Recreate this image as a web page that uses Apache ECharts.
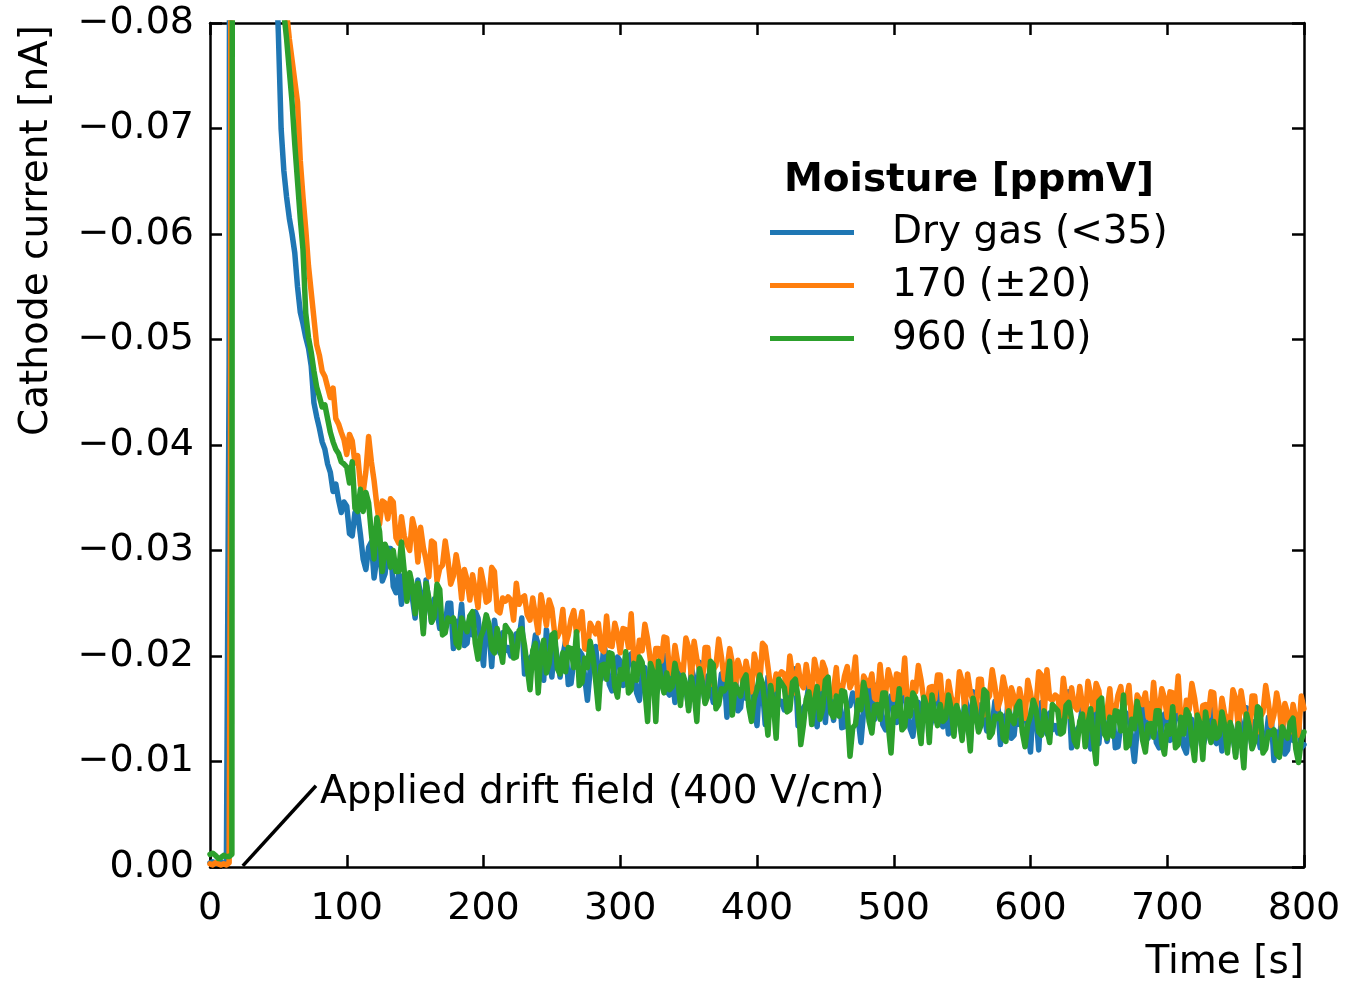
<!DOCTYPE html>
<html>
<head>
<meta charset="utf-8">
<script src="https://cdn.jsdelivr.net/npm/echarts@6/dist/echarts.min.js"></script>
<style>
html,body{margin:0;padding:0;background:#fff;}
#chart{width:1348px;height:983px;}
</style>
</head>
<body>
<div id="chart"></div>
<script>
// Time samples [s]
const timeS = [0,2,4,6,8,10,12,13,14,15,16,17,18,24,32,40,45,
48,50,52,54,56,58,60,62,64,66,68,70,72,74,76,78,80,82,84,86,88,90,92,94,96,98,
100,102,104,106,108,110,112,114,116,118,120,122,124,126,128,130,132,134,136,138,
140,142,144,146,148,150,152,154,156,158,160,162,164,166,168,170,172,174,176,178,
180,182,184,186,188,190,192,194,196,198,200,202,204,206,208,210,212,214,216,218,
220,222,224,226,228,230,232,234,236,238,240,242,244,246,248,250,252,254,256,258,
260,262,264,266,268,270,272,274,276,278,280,282,284,286,288,290,292,294,296,298,
300,302,304,306,308,310,312,314,316,318,320,322,324,326,328,330,332,334,336,338,
340,342,344,346,348,350,352,354,356,358,360,362,364,366,368,370,372,374,376,378,
380,382,384,386,388,390,392,394,396,398,400,402,404,406,408,410,412,414,416,418,
420,422,424,426,428,430,432,434,436,438,440,442,444,446,448,450,452,454,456,458,
460,462,464,466,468,470,472,474,476,478,480,482,484,486,488,490,492,494,496,498,
500,502,504,506,508,510,512,514,516,518,520,522,524,526,528,530,532,534,536,538,
540,542,544,546,548,550,552,554,556,558,560,562,564,566,568,570,572,574,576,578,
580,582,584,586,588,590,592,594,596,598,600,602,604,606,608,610,612,614,616,618,
620,622,624,626,628,630,632,634,636,638,640,642,644,646,648,650,652,654,656,658,
660,662,664,666,668,670,672,674,676,678,680,682,684,686,688,690,692,694,696,698,
700,702,704,706,708,710,712,714,716,718,720,722,724,726,728,730,732,734,736,738,
740,742,744,746,748,750,752,754,756,758,760,762,764,766,768,770,772,774,776,778,
780,782,784,786,788,790,792,794,796,798,800];

// Cathode current in pA (1 pA = 0.001 nA)
const dryGasPA = [-0.4,-0.5,-0.3,-0.4,-0.5,-0.3,-0.4,-0.5,-47.6,-200,-350,-420,-450,-360,-240,-150,-105,
-86,-79,-70,-66,-63.5,-61.5,-60,-58.2,-55,-52.6,-51.5,-50.2,-49.2,-47.5,-44,-42.7,-41.6,-40.3,-39.6,-38.2,-37.4,-35.6,-36.3,-34.8,-33.6,-34.6,
-34.2,-31.6,-31.4,-33.6,-33.5,-31.5,-29.2,-28.2,-30.3,-30.8,-27.4,-29.3,-30.4,-27.1,-27.8,-30.2,-30.2,-26.6,-26.0,-27.7,
-24.9,-27.8,-27.0,-25.6,-25.5,-23.6,-27.2,-25.9,-22.5,-27.2,-25.1,-23.2,-25.4,-24.3,-22.6,-22.8,-23.0,-25.0,-25.0,-20.7,
-23.3,-22.4,-24.9,-21.0,-21.2,-23.7,-22.0,-24.2,-23.6,-21.1,-19.1,-23.4,-22.5,-19.0,-23.4,-21.5,-20.3,-22.2,-20.5,-20.8,
-20.0,-21.5,-22.1,-21.7,-23.6,-18.3,-18.8,-19.8,-20.1,-22.0,-21.1,-18.7,-17.7,-22.5,-20.2,-18.0,-21.3,-19.8,-18.0,-20.0,
-21.4,-17.3,-17.4,-19.5,-19.4,-20.5,-20.1,-18.0,-15.8,-18.7,-19.6,-20.9,-18.2,-17.8,-21.1,-19.8,-17.3,-16.7,-18.6,-19.9,
-19.5,-17.2,-17.4,-19.9,-20.2,-18.5,-16.5,-15.8,-18.2,-18.9,-15.8,-17.9,-19.3,-16.2,-17.2,-19.8,-20.1,-16.7,-16.3,-18.2,
-15.6,-18.7,-18.1,-16.8,-16.9,-15.1,-18.9,-17.8,-14.6,-19.4,-17.5,-15.7,-18.1,-17.2,-15.6,-15.9,-16.2,-18.3,-18.4,-14.2,
-16.9,-16.0,-18.6,-14.8,-15.1,-17.6,-16.0,-18.2,-17.7,-15.3,-13.4,-17.7,-16.9,-13.5,-18.0,-16.1,-15.0,-17.0,-15.4,-15.7,
-14.9,-16.4,-17.1,-16.8,-18.8,-13.4,-14.0,-15.1,-15.5,-17.4,-16.6,-14.2,-13.3,-18.1,-15.9,-13.7,-17.1,-15.6,-13.9,-15.9,
-17.2,-13.2,-13.3,-15.4,-15.3,-16.5,-16.1,-14.0,-11.8,-14.8,-15.7,-17.0,-14.3,-14.0,-17.3,-16.0,-13.5,-13.0,-14.9,-16.2,
-15.9,-13.7,-13.9,-16.4,-16.7,-15.1,-13.1,-12.4,-14.8,-15.6,-12.5,-14.7,-16.1,-13.0,-14.0,-16.7,-17.0,-13.7,-13.3,-15.2,
-12.6,-15.8,-15.2,-13.9,-14.0,-12.3,-16.1,-15.0,-11.8,-16.6,-14.7,-13.0,-15.4,-14.5,-12.9,-13.2,-13.5,-15.7,-15.8,-11.6,
-14.3,-13.5,-16.1,-12.2,-12.5,-15.1,-13.5,-15.8,-15.3,-12.8,-10.9,-15.3,-14.5,-11.1,-15.6,-13.7,-12.6,-14.6,-13.0,-13.4,
-12.7,-14.3,-15.0,-14.6,-16.6,-11.3,-11.9,-13.0,-13.4,-15.3,-14.5,-12.1,-11.2,-16.1,-13.9,-11.7,-15.1,-13.6,-11.9,-13.9,
-15.3,-11.3,-11.4,-13.5,-13.4,-14.6,-14.2,-12.2,-10.0,-13.0,-13.9,-15.2,-12.5,-12.2,-15.5,-14.3,-11.8,-11.3,-13.2,-14.5,
-14.2,-12.0,-12.2,-14.7,-15.0,-13.4,-11.4,-10.8,-13.2,-14.0,-10.9,-13.0,-14.4,-11.4,-12.4,-15.1,-15.4,-12.1,-11.7,-13.6,
-11.0,-14.2,-13.6,-12.3,-12.4,-10.7,-14.5,-13.4,-10.2,-15.1,-13.2,-11.4,-13.8,-12.9,-11.3,-11.7,-12.0,-14.2,-14.3,-10.1,
-12.8,-12.0,-14.6,-10.7,-11.1,-13.6,-12.0,-14.2,-13.7,-11.3,-11.6];

const ppm170PA = [-0.3,-0.2,-0.4,-0.3,-0.2,-0.3,-0.2,-0.3,-0.4,-35,-250,-400,-450,-380,-260,-170,-120,
-96,-91,-87,-84,-81,-78.5,-76.5,-74.5,-72.5,-67,-63.5,-60.5,-57,-54.5,-52,-49.5,-48.5,-47,-46.5,-45.5,-44.5,-45.4,-42.5,-42,-41.2,-40.5,
-39.1,-41.0,-40.4,-38.3,-39.0,-36.2,-35.5,-37.5,-40.8,-38.4,-36.6,-34.3,-32.5,-34.7,-34.5,-33.0,-34.9,-34.6,-31.2,-30.7,
-33.2,-31.4,-30.6,-30.0,-33.0,-31.9,-28.9,-32.2,-30.3,-29.1,-27.5,-30.9,-30.7,-27.1,-28.3,-28.6,-30.9,-29.1,-26.8,-27.6,
-29.6,-28.1,-25.4,-28.2,-27.2,-25.3,-27.7,-26.2,-24.6,-28.2,-26.9,-25.1,-25.3,-28.4,-28.0,-24.3,-24.1,-25.5,-25.2,-25.6,
-25.3,-23.4,-26.9,-24.9,-25.5,-25.7,-23.9,-23.4,-25.5,-23.8,-22.2,-25.8,-24.4,-22.9,-25.3,-24.5,-22.2,-21.8,-22.4,-24.4,
-21.1,-22.0,-23.5,-24.3,-22.2,-22.8,-24.2,-20.7,-20.6,-23.1,-22.6,-22.1,-23.1,-20.7,-20.4,-23.8,-21.0,-20.9,-23.1,-22.1,
-20.3,-22.6,-22.5,-20.8,-24.0,-19.5,-19.2,-21.5,-20.5,-23.0,-21.6,-19.6,-18.2,-20.7,-20.7,-19.5,-21.8,-21.7,-18.5,-18.3,
-21.0,-19.4,-18.9,-18.5,-21.7,-20.8,-18.0,-21.4,-19.7,-18.7,-17.3,-20.8,-20.8,-17.3,-18.7,-19.1,-21.6,-19.9,-17.8,-18.7,
-20.7,-19.3,-16.7,-19.6,-18.7,-17.0,-19.5,-18.1,-16.6,-20.2,-19.0,-17.3,-21.2,-20.9,-19.0,-16.9,-16.8,-18.3,-18.1,-18.5,
-18.3,-16.5,-20.0,-18.1,-16.5,-19.1,-17.4,-17.0,-19.2,-17.5,-16.0,-19.7,-18.4,-16.9,-19.4,-18.7,-16.5,-16.1,-16.8,-18.9,
-15.6,-16.6,-18.1,-19.0,-17.0,-17.6,-19.9,-15.6,-15.6,-18.1,-17.6,-17.2,-18.3,-16.0,-15.8,-19.2,-16.4,-16.4,-18.7,-17.7,
-15.9,-18.3,-18.2,-16.5,-19.8,-15.4,-15.1,-17.5,-16.6,-19.1,-17.7,-15.8,-14.4,-17.0,-17.1,-15.9,-18.2,-18.2,-15.1,-14.8,
-17.6,-16.1,-15.6,-15.2,-18.5,-17.6,-14.9,-18.3,-16.6,-15.6,-14.3,-17.8,-17.8,-14.4,-15.8,-16.2,-18.7,-17.1,-15.0,-15.9,
-18.0,-16.7,-14.1,-17.0,-16.1,-14.4,-16.9,-15.6,-14.1,-17.7,-16.5,-14.9,-15.2,-18.5,-18.2,-14.5,-18.7,-16.0,-15.8,-16.3,
-16.1,-14.3,-17.9,-15.9,-14.3,-17.0,-15.3,-14.9,-17.1,-15.4,-13.9,-17.6,-16.3,-14.9,-17.4,-16.7,-14.5,-14.1,-14.8,-16.9,
-13.7,-14.7,-16.3,-17.1,-15.1,-15.8,-17.2,-13.8,-13.8,-16.3,-15.8,-15.4,-16.5,-14.2,-14.0,-17.5,-14.7,-14.6,-16.9,-16.0,
-14.2,-16.6,-16.5,-14.8,-18.1,-13.7,-13.4,-15.8,-14.9,-17.4,-16.0,-14.1,-12.7,-15.3,-15.4,-14.3,-16.6,-16.5,-13.4,-13.2,
-16.0,-14.5,-14.0,-13.6,-16.8,-16.0,-13.2,-16.7,-15.0,-14.0,-12.6,-16.2,-16.2,-12.8,-14.2,-14.7,-17.2,-15.5,-13.4,-14.4,
-16.5,-15.1,-12.6,-15.5,-14.6,-12.8,-15.4,-14.0,-12.5,-16.2,-15.0];

const ppm960PA = [-1.2,-1.3,-1.1,-0.8,-0.9,-1.1,-1.0,-1.1,-1.0,-1.1,-1.2,-300,-450,-380,-260,-170,-120,
-93,-88.5,-84.5,-81,-78.5,-75.5,-72.5,-68.5,-65,-61.5,-58.5,-52.5,-50.2,-48.8,-47,-45.5,-44.6,-43.6,-43.8,-42.5,-41.2,-40.3,-39.6,-39.2,-38.4,-38.2,
-37.9,-36.4,-38.4,-34.0,-33.7,-35.8,-33.7,-35.5,-34.5,-31.6,-29.2,-33.1,-31.8,-28.0,-30.6,-29.9,-28.4,-30.0,-28.0,-28.0,
-30.8,-28.1,-25.2,-27.9,-26.7,-24.0,-26.9,-25.1,-22.1,-26.9,-25.5,-23.2,-23.7,-26.8,-26.3,-22.0,-22.2,-23.6,-23.3,-23.6,
-21.2,-20.8,-23.6,-22.9,-22.3,-23.8,-24.2,-21.2,-19.7,-21.8,-22.5,-23.9,-23.0,-20.7,-20.3,-22.6,-20.8,-19.4,-22.9,-22.5,
-22.1,-19.8,-19.9,-22.4,-22.6,-21.0,-18.9,-16.8,-20.5,-21.2,-16.5,-20.2,-21.5,-18.4,-19.3,-22.0,-22.2,-18.8,-18.3,-20.3,
-18.5,-20.8,-20.7,-18.9,-22.3,-17.2,-17.5,-19.8,-18.9,-21.4,-20.0,-17.7,-15.0,-19.1,-19.2,-17.8,-20.3,-20.2,-17.1,-16.1,
-18.7,-17.8,-20.4,-16.5,-16.8,-19.3,-17.7,-19.9,-19.4,-16.9,-13.8,-19.3,-18.5,-13.8,-19.5,-17.6,-16.5,-18.4,-16.8,-17.1,
-19.3,-17.9,-15.3,-18.2,-17.3,-14.8,-18.0,-16.5,-13.8,-18.8,-17.6,-15.5,-16.2,-19.5,-19.2,-15.0,-15.4,-16.9,-16.7,-17.1,
-19.5,-14.4,-17.3,-16.7,-16.2,-17.7,-18.2,-15.2,-13.8,-16.0,-16.8,-18.2,-17.4,-15.2,-12.5,-17.2,-15.5,-12.2,-17.8,-17.4,
-17.0,-14.7,-14.9,-17.5,-17.8,-16.1,-11.6,-13.5,-15.9,-16.6,-13.5,-15.7,-17.1,-14.0,-15.0,-17.7,-18.0,-14.6,-14.2,-16.2,
-14.3,-16.7,-16.6,-14.8,-10.5,-13.2,-13.5,-15.8,-14.9,-17.5,-16.1,-13.8,-12.7,-15.3,-15.4,-14.0,-16.5,-16.5,-13.4,-10.8,
-15.1,-14.3,-16.9,-13.0,-13.3,-15.9,-14.3,-16.5,-16.0,-13.6,-11.7,-16.1,-15.3,-11.8,-16.3,-14.5,-13.4,-15.4,-13.8,-14.1,
-16.3,-15.0,-12.4,-15.3,-14.4,-12.0,-15.2,-13.7,-11.0,-16.0,-14.8,-12.8,-13.5,-16.8,-16.5,-12.3,-12.7,-14.3,-14.1,-14.5,
-12.2,-11.9,-14.8,-14.1,-13.6,-15.2,-15.7,-12.8,-11.4,-13.5,-14.3,-15.8,-15.0,-12.8,-12.5,-14.8,-13.1,-11.8,-15.4,-15.1,
-14.8,-12.6,-12.8,-15.3,-15.6,-14.0,-12.0,-11.4,-13.8,-14.5,-11.4,-13.6,-15.0,-12.0,-9.8,-15.7,-16.0,-12.6,-12.2,-14.2,
-12.4,-14.8,-14.7,-12.9,-16.3,-11.3,-11.6,-14.0,-13.1,-15.7,-14.3,-12.0,-10.9,-13.5,-13.6,-12.3,-14.8,-14.8,-11.7,-10.7,
-13.4,-12.6,-15.2,-11.3,-11.6,-14.2,-12.6,-14.9,-14.4,-12.0,-10.1,-14.4,-13.6,-10.2,-14.7,-12.9,-11.8,-13.8,-12.2,-12.5,
-14.7,-13.4,-10.8,-13.7,-12.8,-10.4,-13.6,-12.1,-9.4,-14.5,-13.3,-11.2,-11.9,-15.2,-14.9,-10.8,-11.2,-12.8,-12.6,-13.0,
-10.7,-10.4,-13.3,-12.6,-12.2,-13.7,-14.1,-11.2,-9.9,-12.0,-12.8];

const seriesNames = ['Dry gas (<35)', '170 (±20)', '960 (±10)'];
const seriesColors = ['#1f77b4', '#ff7f0e', '#2ca02c'];
const xTickLabels = ['0','100','200','300','400','500','600','700','800'];
const yTickLabels = ['−0.08','−0.07','−0.06','−0.05','−0.04','−0.03','−0.02','−0.01','0.00'];
const legendTitle = 'Moisture [ppmV]';
const xTitle = 'Time [s]';
const yTitle = 'Cathode current [nA]';
const annotationText = 'Applied drift field (400 V/cm)';
const annotationLine = [[24, -0.0001], [77.5, -0.0077]];
const annotationTextAt = [80.5, -0.0070];

const PA_TO_NA = 0.001;
const FONT = 'DejaVu Sans';
const FS = 38;   // tick labels
const FT = 39;   // titles, legend, annotation

function toData(arr) { return timeS.map((t, i) => [t, arr[i] * PA_TO_NA]); }

const chart = echarts.init(document.getElementById('chart'), null, {renderer: 'canvas'});

const axisLine = {show: true, onZero: false, lineStyle: {color: '#000', width: 2.5}};
const axisTick = {show: true, inside: true, length: 12, lineStyle: {color: '#000', width: 2.5}};

function lineSeries(name, arr, color, extra) {
  return Object.assign({
    name: name, type: 'line', data: toData(arr),
    showSymbol: false, symbol: 'none', clip: true,
    lineStyle: {color: color, width: 5.5, cap: 'round', join: 'round'},
    itemStyle: {color: color},
    emphasis: {disabled: true}, silent: true
  }, extra || {});
}

const option = {
  animation: false,
  backgroundColor: '#fff',
  grid: {left: 210, right: 44, top: 23, bottom: 116, containLabel: false},
  xAxis: [
    {type: 'value', position: 'bottom', min: 0, max: 800, interval: 100,
     axisLine: axisLine, axisTick: axisTick, splitLine: {show: false},
     axisLabel: {fontSize: FS, color: '#000', fontFamily: FONT, margin: 23,
       formatter: v => xTickLabels[Math.round(v / 100)]}},
    {type: 'value', position: 'top', min: 0, max: 800, interval: 100,
     axisLine: axisLine, axisTick: axisTick, splitLine: {show: false},
     axisLabel: {show: false}}
  ],
  yAxis: [
    {type: 'value', position: 'left', min: -0.08, max: 0, interval: 0.01, inverse: true,
     axisLine: axisLine, axisTick: axisTick, splitLine: {show: false},
     axisLabel: {fontSize: FS, color: '#000', fontFamily: FONT, margin: 16,
       formatter: v => yTickLabels[Math.round((v + 0.08) * 100)]}},
    {type: 'value', position: 'right', min: -0.08, max: 0, interval: 0.01, inverse: true,
     axisLine: axisLine, axisTick: axisTick, splitLine: {show: false},
     axisLabel: {show: false}}
  ],
  legend: {
    show: true, orient: 'vertical', left: 770, top: 212, padding: 0,
    icon: 'rect', itemWidth: 84, itemHeight: 5, itemGap: 12,
    data: seriesNames,
    textStyle: {fontSize: FT, color: '#000', fontFamily: FONT, lineHeight: 41, padding: [0, 0, 0, 33]},
    selectedMode: false
  },
  series: [
    lineSeries(seriesNames[0], dryGasPA, seriesColors[0]),
    lineSeries(seriesNames[1], ppm170PA, seriesColors[1]),
    lineSeries(seriesNames[2], ppm960PA, seriesColors[2], {
      markLine: {
        silent: true, symbol: ['none', 'none'], animation: false,
        label: {show: false},
        lineStyle: {color: '#000', width: 3.5, type: 'solid'},
        emphasis: {disabled: true},
        data: [[{coord: annotationLine[0]}, {coord: annotationLine[1]}]]
      },
      markPoint: {
        silent: true, animation: false, symbol: 'circle', symbolSize: 0,
        label: {show: true, position: 'right', distance: 0, formatter: annotationText,
                color: '#000', fontSize: FT, fontFamily: FONT},
        data: [{coord: annotationTextAt}]
      }
    })
  ],
  graphic: [
    {type: 'text', x: 1304, y: 963,
     style: {text: xTitle, font: FT + 'px "' + FONT + '"', fill: '#000', align: 'right', verticalAlign: 'middle'}},
    {type: 'text', x: 37, y: 25, rotation: Math.PI / 2,
     style: {text: yTitle, font: FT + 'px "' + FONT + '"', fill: '#000', align: 'right', verticalAlign: 'middle'}},
    {type: 'text', x: 969, y: 181,
     style: {text: legendTitle, font: 'bold ' + FT + 'px "' + FONT + '"', fill: '#000', align: 'center', verticalAlign: 'middle'}}
  ]
};
chart.setOption(option);
</script>
</body>
</html>
